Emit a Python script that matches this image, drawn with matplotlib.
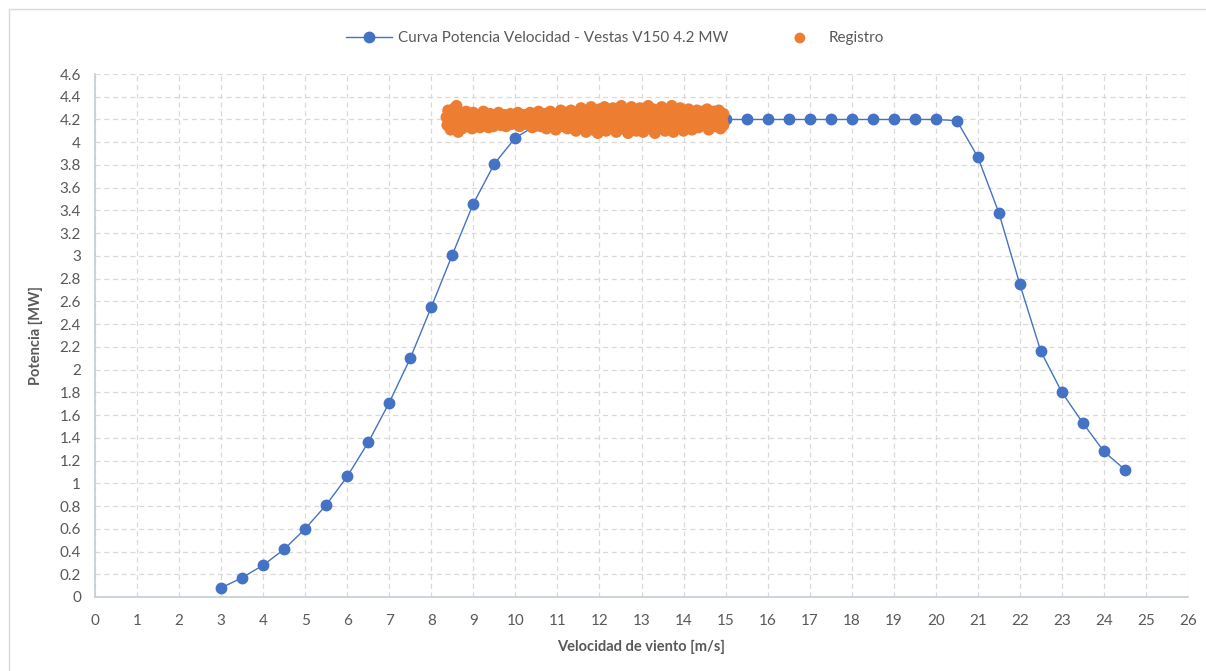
import matplotlib
matplotlib.use("Agg")
import matplotlib.pyplot as plt
from matplotlib.patches import Rectangle

plt.rcParams['font.family'] = ['Lato', 'DejaVu Sans']

# Power curve data
curve_x = [3, 3.5, 4, 4.5, 5, 5.5, 6, 6.5, 7, 7.5, 8, 8.5, 9, 9.5, 10, 10.5,
           11, 11.5, 12, 12.5, 13, 13.5, 14, 14.5, 15, 15.5, 16, 16.5, 17, 17.5,
           18, 18.5, 19, 19.5, 20, 20.5, 21, 21.5, 22, 22.5, 23, 23.5, 24, 24.5]
curve_y = [0.08, 0.17, 0.28, 0.42, 0.60, 0.81, 1.06, 1.36, 1.71, 2.10, 2.55, 3.01,
           3.46, 3.81, 4.04, 4.15, 4.19, 4.20, 4.20, 4.20, 4.20, 4.20, 4.20, 4.20,
           4.20, 4.20, 4.20, 4.20, 4.20, 4.20, 4.20, 4.20, 4.20, 4.20, 4.20, 4.19,
           3.87, 3.38, 2.75, 2.16, 1.80, 1.53, 1.28, 1.12]

# Recorded points (Registro)
reg_x = [8.36, 8.38, 8.40, 8.44, 8.46, 8.50, 8.52, 8.55, 8.58, 8.60, 8.62, 8.64, 8.68, 8.70, 8.73, 8.75,
         8.80, 8.83, 8.86, 8.90, 8.94, 8.97, 9.00, 9.04, 9.08, 9.12, 9.16, 9.20, 9.24, 9.28, 9.32, 9.36,
         9.40, 9.44, 9.48, 9.52, 9.56, 9.60,
         9.65, 9.70, 9.74, 9.78, 9.83, 9.88, 9.92, 9.97, 10.02, 10.06, 10.10, 10.15, 10.20, 10.25, 10.30,
         10.35, 10.40, 10.45, 10.50,
         10.55, 10.60, 10.65, 10.70, 10.74, 10.78, 10.83, 10.88, 10.92, 10.96, 11.00, 11.04, 11.08, 11.12,
         11.16, 11.20, 11.24, 11.28, 11.32, 11.36, 11.40, 11.44, 11.48,
         11.52, 11.56, 11.60, 11.64, 11.68, 11.72, 11.76, 11.80, 11.84, 11.88, 11.92, 11.96, 12.00, 12.04,
         12.08, 12.12, 12.16, 12.20, 12.24, 12.28, 12.32, 12.36, 12.40, 12.44, 12.48, 12.52, 12.56, 12.60,
         12.64, 12.68, 12.72, 12.76, 12.80, 12.84, 12.88, 12.92, 12.96, 13.00, 13.04, 13.08, 13.12, 13.16,
         13.20, 13.24, 13.28, 13.32, 13.36, 13.40, 13.44, 13.48, 13.52, 13.56, 13.60, 13.64, 13.68, 13.72,
         13.76, 13.80, 13.84, 13.88, 13.92, 13.96,
         14.00, 14.04, 14.08, 14.12, 14.16, 14.20, 14.24, 14.28, 14.32, 14.36, 14.40, 14.44, 14.48, 14.52,
         14.56, 14.60, 14.64, 14.68, 14.72, 14.76, 14.80, 14.84, 14.88, 14.92, 14.95, 14.95,
         8.48, 8.66, 8.85, 9.06, 9.26, 9.46, 9.68, 9.90, 10.12, 10.32, 10.52, 10.72, 10.94, 11.14, 11.34,
         11.54, 11.74, 11.94, 12.14, 12.34, 12.54, 12.74, 12.94, 13.14, 13.34, 13.54, 13.74, 13.94, 14.14,
         14.34, 14.54, 14.74, 14.90]
reg_y = [4.22, 4.15, 4.28, 4.19, 4.11, 4.25, 4.17, 4.30, 4.13, 4.32, 4.21, 4.09, 4.26, 4.16, 4.12, 4.24,
         4.20, 4.27, 4.14, 4.23, 4.17, 4.12, 4.26, 4.20, 4.15, 4.24, 4.13, 4.19, 4.27, 4.16, 4.22, 4.13,
         4.25, 4.18, 4.14, 4.23, 4.19, 4.26,
         4.15, 4.21, 4.24, 4.14, 4.19, 4.25, 4.16, 4.22, 4.18, 4.26, 4.14, 4.21, 4.24, 4.16, 4.20,
         4.26, 4.13, 4.22, 4.18,
         4.27, 4.14, 4.21, 4.25, 4.12, 4.19, 4.27, 4.16, 4.22, 4.11, 4.25, 4.18, 4.28, 4.14,
         4.21, 4.26, 4.12, 4.19, 4.28, 4.15, 4.23, 4.10, 4.26,
         4.18, 4.30, 4.13, 4.22, 4.09, 4.27, 4.17, 4.31, 4.11, 4.24, 4.19, 4.08, 4.29, 4.15,
         4.22, 4.31, 4.10, 4.26, 4.18, 4.13, 4.30, 4.21, 4.09, 4.25, 4.16, 4.32, 4.12, 4.23,
         4.28, 4.08, 4.19, 4.31, 4.14, 4.25, 4.10, 4.21, 4.30, 4.16, 4.09, 4.27, 4.19, 4.32,
         4.12, 4.23, 4.29, 4.08, 4.17, 4.26, 4.13, 4.31, 4.21, 4.10, 4.28, 4.16, 4.24, 4.32,
         4.09, 4.20, 4.27, 4.13, 4.30, 4.18,
         4.10, 4.25, 4.15, 4.29, 4.20, 4.11, 4.24, 4.17, 4.28, 4.13, 4.22, 4.27, 4.15, 4.20,
         4.29, 4.11, 4.24, 4.18, 4.27, 4.14, 4.21, 4.28, 4.12, 4.19, 4.25, 4.15,
         4.20, 4.19, 4.21, 4.19, 4.20, 4.21, 4.19, 4.20, 4.20, 4.19, 4.21, 4.20, 4.19, 4.21, 4.20,
         4.20, 4.21, 4.19, 4.20, 4.21, 4.19, 4.20, 4.21, 4.19, 4.20, 4.21, 4.19, 4.20, 4.21,
         4.19, 4.20, 4.21, 4.20]

x_ticks = list(range(0, 27))
y_ticks = [round(0.2 * i, 1) for i in range(24)]
y_tick_labels = ['0', '0.2', '0.4', '0.6', '0.8', '1', '1.2', '1.4', '1.6', '1.8', '2', '2.2',
                 '2.4', '2.6', '2.8', '3', '3.2', '3.4', '3.6', '3.8', '4', '4.2', '4.4', '4.6']

text_color = '#595959'
blue = '#4472C4'
orange = '#ED7D31'

fig = plt.figure(figsize=(12.06, 6.71), dpi=100)
ax = fig.add_axes([95 / 1206, (671 - 597) / 671, (1188 - 95) / 1206, (597 - 74) / 671])

ax.plot(curve_x, curve_y, color=blue, lw=1.0, marker='o', ms=7.5,
        markeredgecolor=blue, markerfacecolor=blue,
        label='Curva Potencia Velocidad - Vestas V150 4.2 MW', zorder=3)
ax.scatter(reg_x, reg_y, s=72, color=orange, edgecolors='none', label='Registro', zorder=4)

ax.set_xlim(0, 26)
ax.set_ylim(0, 4.6)
ax.set_xticks(x_ticks)
ax.set_yticks(y_ticks)
ax.set_yticklabels(y_tick_labels)
ax.tick_params(length=0, labelsize=11, colors=text_color, pad=10)
ax.tick_params(axis='x', pad=12)

ax.grid(True, color='#D9D9D9', lw=0.9, linestyle=(0, (4, 3)))
ax.set_axisbelow(True)
for side in ['top', 'right']:
    ax.spines[side].set_visible(False)
for side in ['left', 'bottom']:
    ax.spines[side].set_color('#C5CCD6')
    ax.spines[side].set_linewidth(1.2)

ax.set_xlabel('Velocidad de viento [m/s]', fontsize=10.5, fontweight='bold', color=text_color, labelpad=9)
ax.set_ylabel('Potencia [MW]', fontsize=10.5, fontweight='bold', color=text_color, labelpad=12)

leg = fig.legend(loc='center', bbox_to_anchor=(0.51, 1 - 38 / 671), ncol=2, frameon=False,
                 fontsize=11, labelcolor=text_color, columnspacing=3.2, handlelength=3.0,
                 handletextpad=0.4)
leg.legend_handles[1].set_sizes([60])

fig.patches.append(Rectangle((9 / 1206, -0.01), 1.02, 1 - 9 / 671 + 0.01, transform=fig.transFigure,
                             fill=False, edgecolor='#D9D9D9', lw=1.0))

fig.savefig('out.png', dpi=100)
